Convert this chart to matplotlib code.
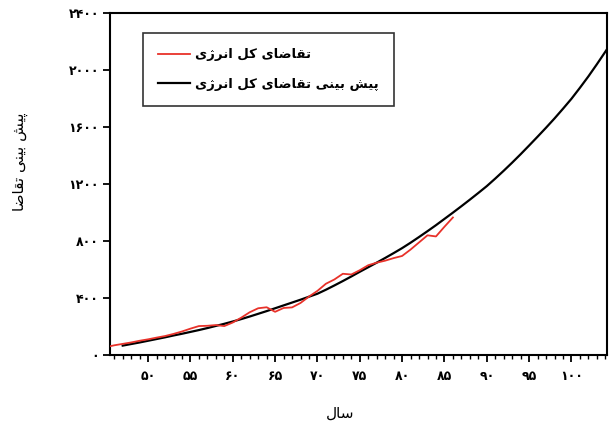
import numpy as np
import matplotlib
matplotlib.use("Agg")
import matplotlib.pyplot as plt
from matplotlib.ticker import MultipleLocator, FuncFormatter

plt.rcParams['font.family'] = ['DejaVu Sans']

# observed total energy demand (red)
years_obs = [45, 46, 47, 48, 49, 50, 51, 52, 53, 54, 55, 56, 57, 58, 59, 60,
             61, 62, 63, 64, 65, 66, 67, 68, 69, 70, 71, 72, 73, 74, 75, 76,
             77, 78, 79, 80, 81, 82, 83, 84, 85, 86]
demand_obs = [55, 68, 78, 88, 100, 110, 122, 133, 148, 165, 185, 203, 205, 210,
              203, 228, 262, 300, 328, 335, 303, 330, 334, 365, 410, 450, 500,
              530, 570, 565, 595, 630, 648, 662, 680, 695, 740, 790, 840, 832,
              900, 965]

# forecast of total energy demand (black)
years_fc = list(range(47, 106))
demand_fc = [66, 77, 88, 100, 112, 124, 137, 149, 162, 175, 189, 204, 219, 235,
             252, 270, 289, 308, 328, 348, 368, 388, 409, 430, 458, 488, 519,
             551, 584, 616, 648, 681, 715, 750, 788, 828, 869, 911, 955, 999,
             1044, 1090, 1137, 1185, 1238, 1293, 1350, 1409, 1470, 1532, 1595,
             1660, 1728, 1798, 1875, 1955, 2040, 2128, 2218]

label_obs = "تقاضای کل انرژی"
label_fc = "پیش بینی تقاضای کل انرژی"
xlabel = "سال"
ylabel = "پیش بینی تقاضا"

xticks = [50, 55, 60, 65, 70, 75, 80, 85, 90, 95, 100]
yticks = [0, 400, 800, 1200, 1600, 2000, 2400]

# --- simple persian shaping (matplotlib has no complex text layout) ---
# isolated, final, initial, medial presentation forms
FORMS = {
    'ا': ('\uFE8D', '\uFE8E', None, None),
    'ب': ('\uFE8F', '\uFE90', '\uFE91', '\uFE92'),
    'پ': ('\uFB56', '\uFB57', '\uFB58', '\uFB59'),
    'ت': ('\uFE95', '\uFE96', '\uFE97', '\uFE98'),
    'ر': ('\uFEAD', '\uFEAE', None, None),
    'ژ': ('\uFB8A', '\uFB8B', None, None),
    'س': ('\uFEB1', '\uFEB2', '\uFEB3', '\uFEB4'),
    'ش': ('\uFEB5', '\uFEB6', '\uFEB7', '\uFEB8'),
    'ض': ('\uFEBD', '\uFEBE', '\uFEBF', '\uFEC0'),
    'ق': ('\uFED5', '\uFED6', '\uFED7', '\uFED8'),
    'ک': ('\uFB8E', '\uFB8F', '\uFB90', '\uFB91'),
    'ل': ('\uFEDD', '\uFEDE', '\uFEDF', '\uFEE0'),
    'ن': ('\uFEE5', '\uFEE6', '\uFEE7', '\uFEE8'),
    'ی': ('\uFBFC', '\uFBFD', '\uFBFE', '\uFBFF'),
}
RIGHT_ONLY = set('اژر')


def shape(text):
    out = []
    for i, ch in enumerate(text):
        if ch not in FORMS:
            out.append(ch)
            continue
        prev = text[i - 1] if i > 0 else ''
        nxt = text[i + 1] if i + 1 < len(text) else ''
        join_prev = prev in FORMS and prev not in RIGHT_ONLY
        join_next = nxt in FORMS and ch not in RIGHT_ONLY
        iso, fin, ini, med = FORMS[ch]
        if join_prev and join_next:
            out.append(med)
        elif join_prev:
            out.append(fin)
        elif join_next:
            out.append(ini)
        else:
            out.append(iso)
    return ''.join(reversed(out))


def fa_digits(v, pos=None):
    return str(int(round(v))).translate(str.maketrans('0123456789', '۰۱۲۳۴۵۶۷۸۹'))


fig = plt.figure(figsize=(6.12, 4.21), dpi=100)
ax = fig.add_axes([110 / 612, 66 / 421, 497 / 612, 342 / 421])

ax.plot(years_obs, demand_obs, color='#e8322a', lw=1.3, label=shape(label_obs), zorder=3)
ax.plot(years_fc, demand_fc, color='black', lw=1.6, label=shape(label_fc), zorder=2)

ax.set_xlim(45.5, 104.2)
ax.set_ylim(0, 2400)
ax.set_xticks(xticks)
ax.xaxis.set_minor_locator(MultipleLocator(1))
ax.set_yticks(yticks)
ax.xaxis.set_major_formatter(FuncFormatter(fa_digits))
ax.yaxis.set_major_formatter(FuncFormatter(fa_digits))

for s in ax.spines.values():
    s.set_linewidth(1.5)
ax.tick_params(axis='x', which='major', length=5, width=1.3, pad=6, labelsize=9)
ax.tick_params(axis='x', which='minor', length=3, width=1.0)
ax.tick_params(axis='y', which='major', length=5, width=1.3, pad=3, labelsize=9)
for t in ax.get_xticklabels() + ax.get_yticklabels():
    t.set_fontweight('bold')

ax.set_xlabel(shape(xlabel), fontsize=11)
ax.xaxis.set_label_coords(0.463, -0.148)
ax.set_ylabel(shape(ylabel), fontsize=11)
ax.yaxis.set_label_coords(-0.165, 0.565)

leg = ax.legend(loc='upper left', bbox_to_anchor=(0.066, 0.9415), borderaxespad=0,
                fancybox=False, edgecolor='#333333', framealpha=1,
                prop={'size': 9.5, 'weight': 'bold'}, handlelength=2.4,
                handletextpad=0.4, labelspacing=1.25, borderpad=1.15)
leg.get_frame().set_linewidth(1.2)

fig.savefig('out.png', dpi=100)
